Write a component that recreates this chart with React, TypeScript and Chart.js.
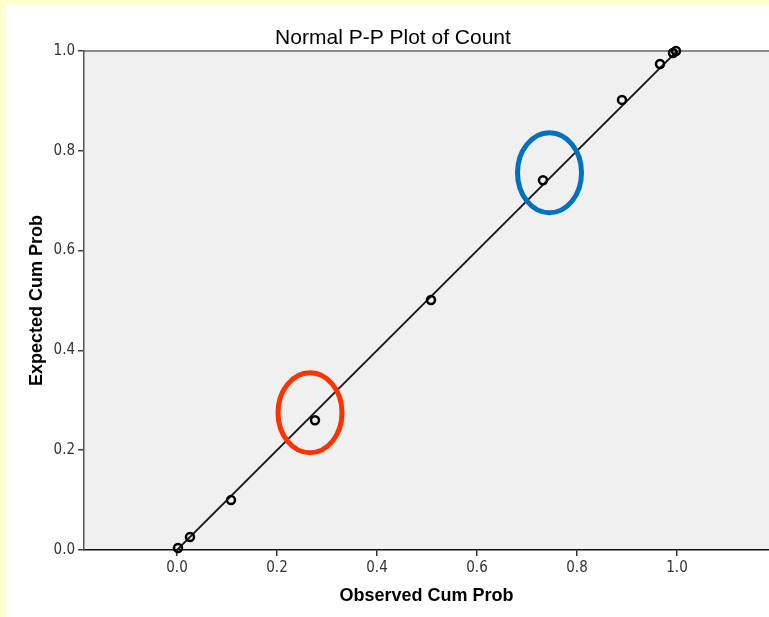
import React, { useEffect, useRef } from "react";
import { Chart, registerables } from "chart.js";

Chart.register(...registerables);

const TITLE = "Normal P-P Plot of Count";
const X_TITLE = "Observed Cum Prob";
const Y_TITLE = "Expected Cum Prob";

const observed = [0.002, 0.026, 0.108, 0.276, 0.508, 0.732, 0.89, 0.966, 0.992, 0.998];
const expected = [0.004, 0.026, 0.1, 0.26, 0.501, 0.741, 0.902, 0.974, 0.996, 1.0];

const lineX = [0, 1];
const lineY = [0, 1];

const xTicks = [0, 0.2, 0.4, 0.6, 0.8, 1.0];
const yTicks = [0, 0.2, 0.4, 0.6, 0.8, 1.0];

const X_MIN = -0.186;
const X_MAX = 1.184;

// annotation ellipses (data coordinates)
const ellipseCenterX = [0.266, 0.745];
const ellipseCenterY = [0.275, 0.756];
const ellipseColor = ["#FF3300", "#0070C0"];

const TICK_FONT = { family: "'Liberation Sans Narrow', 'DejaVu Sans Condensed', 'Liberation Sans', sans-serif", size: 15 };
const AXIS_TITLE_FONT = { family: "'Liberation Sans', Arial, sans-serif", size: 18, weight: "bold" as const };

const decorPlugin = {
  id: "decor",
  beforeDraw(chart: any) {
    const { ctx, chartArea } = chart;
    ctx.save();
    ctx.fillStyle = "#F0F0F0";
    ctx.fillRect(chartArea.left, chartArea.top, chartArea.right - chartArea.left, chartArea.bottom - chartArea.top);
    ctx.strokeStyle = "#8A8A8A";
    ctx.lineWidth = 2;
    ctx.beginPath();
    ctx.moveTo(chartArea.left, chartArea.top);
    ctx.lineTo(chartArea.right, chartArea.top);
    ctx.stroke();
    // main title
    ctx.fillStyle = "#000000";
    ctx.font = "21px 'Liberation Sans', Arial, sans-serif";
    ctx.textAlign = "center";
    ctx.textBaseline = "alphabetic";
    ctx.fillText(TITLE, 393, 44);
    ctx.restore();
  },
  afterDraw(chart: any) {
    const { ctx } = chart;
    const xs = chart.scales.x;
    const ys = chart.scales.y;
    ctx.save();
    for (let i = 0; i < ellipseCenterX.length; i++) {
      const cx = xs.getPixelForValue(ellipseCenterX[i]);
      const cy = ys.getPixelForValue(ellipseCenterY[i]);
      const rx = xs.getPixelForValue(ellipseCenterX[i] + 0.064) - cx;
      const ry = cy - ys.getPixelForValue(ellipseCenterY[i] + 0.08);
      ctx.strokeStyle = ellipseColor[i];
      ctx.lineWidth = 5;
      ctx.beginPath();
      ctx.ellipse(cx, cy, rx, ry, 0, 0, Math.PI * 2);
      ctx.stroke();
    }
    ctx.restore();
  },
};

export default function App() {
  const ref = useRef<HTMLCanvasElement>(null);
  useEffect(() => {
    if (!ref.current) return;
    const chart = new Chart(ref.current, {
      type: "scatter",
      data: {
        datasets: [
          {
            label: "line",
            data: lineX.map((x, i) => ({ x, y: lineY[i] })),
            showLine: true,
            borderColor: "#1A1A1A",
            borderWidth: 1.8,
            pointRadius: 0,
            order: 2,
          },
          {
            label: "points",
            data: observed.map((x, i) => ({ x, y: expected[i] })),
            pointRadius: 4,
            pointBorderWidth: 2.5,
            borderColor: "#000000",
            backgroundColor: "rgba(0,0,0,0)",
            clip: false as any,
            order: 1,
          },
        ],
      },
      options: {
        animation: false,
        responsive: false,
        layout: { autoPadding: false, padding: { top: 51, left: 0, right: 0, bottom: 0 } },
        plugins: { legend: { display: false }, tooltip: { enabled: false }, title: { display: false } },
        scales: {
          x: {
            type: "linear",
            min: X_MIN,
            max: X_MAX,
            afterBuildTicks: (s: any) => {
              s.ticks = xTicks.map((v) => ({ value: v }));
            },
            afterFit: (s: any) => {
              s.height = 67;
            },
            ticks: {
              callback: (v: any) => Number(v).toFixed(1),
              font: TICK_FONT,
              color: "#333333",
              padding: 3,
              maxRotation: 0,
            },
            grid: { drawOnChartArea: false, drawTicks: true, tickLength: 6, color: "#333333", lineWidth: 1.5 },
            border: { display: true, color: "#111111", width: 1.5 },
            title: {
              display: true,
              text: X_TITLE,
              font: AXIS_TITLE_FONT,
              color: "#000000",
              padding: { top: 0, bottom: 10 },
            },
          },
          y: {
            type: "linear",
            min: 0,
            max: 1,
            afterBuildTicks: (s: any) => {
              s.ticks = yTicks.map((v) => ({ value: v }));
            },
            afterFit: (s: any) => {
              s.width = 84;
            },
            ticks: {
              callback: (v: any) => Number(v).toFixed(1),
              font: TICK_FONT,
              color: "#333333",
              padding: 3,
            },
            grid: { drawOnChartArea: false, drawTicks: true, tickLength: 6, color: "#444444", lineWidth: 1.5 },
            border: { display: true, color: "#555555", width: 1.5 },
            title: {
              display: true,
              text: Y_TITLE,
              font: AXIS_TITLE_FONT,
              color: "#000000",
              padding: { top: 26, bottom: 0 },
            },
          },
        },
      },
      plugins: [decorPlugin],
    });
    return () => chart.destroy();
  }, []);
  return (
    <div
      style={{
        position: "fixed",
        left: 0,
        top: 0,
        width: 769,
        height: 617,
        overflow: "hidden",
        background: "#FFFFCC",
      }}
    >
      <div style={{ position: "absolute", left: 6, top: 5, right: 0, bottom: 0, background: "#FFFFFF" }} />
      <canvas
        ref={ref}
        width={769}
        height={617}
        style={{ position: "absolute", left: 0, top: 0, display: "block", width: 769, height: 617 }}
      />
    </div>
  );
}
